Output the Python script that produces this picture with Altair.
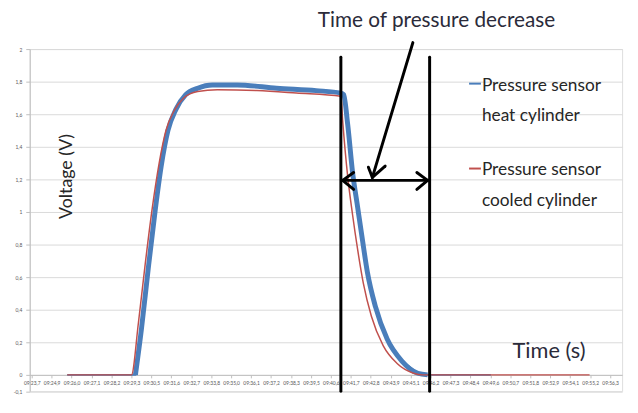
import altair as alt
import pandas as pd

# ---- data (x in category-index units of the time axis) ----
time_labels = ["09:23,7", "09:24,9", "09:26,0", "09:27,1", "09:28,2", "09:29,3",
               "09:30,5", "09:31,6", "09:32,7", "09:33,8", "09:35,0", "09:36,1",
               "09:37,2", "09:38,3", "09:39,5", "09:40,6", "09:41,7", "09:42,8",
               "09:43,9", "09:45,1", "09:46,2", "09:47,3", "09:48,4", "09:49,6",
               "09:50,7", "09:51,8", "09:52,9", "09:54,1", "09:55,2", "09:56,3"]

blue_x = [1.78, 5.20, 5.50, 5.84, 6.19, 6.49, 6.83, 7.23, 7.72, 8.32, 9.06, 10.30,
          12.28, 14.26, 15.50, 15.64, 15.84, 16.09, 16.34, 16.58, 16.83, 17.23,
          17.82, 18.56, 19.36, 19.85, 23.02]
blue_y = [0.0, 0.0, 0.28, 0.65, 1.01, 1.28, 1.50, 1.63, 1.72, 1.76, 1.78, 1.78,
          1.76, 1.745, 1.73, 1.72, 1.54, 1.24, 1.03, 0.83, 0.63, 0.42,
          0.22, 0.085, 0.01, 0.0, 0.0]

red_x = [1.78, 5.00, 5.35, 5.69, 6.04, 6.39, 6.73, 7.13, 7.62, 8.32, 9.31, 11.29,
         13.27, 15.50, 15.59, 15.84, 16.09, 16.34, 16.63, 17.03, 17.62, 18.32,
         19.11, 19.60, 27.97]
red_y = [0.0, 0.0, 0.32, 0.68, 1.02, 1.30, 1.50, 1.62, 1.70, 1.74, 1.75, 1.745,
         1.73, 1.71, 1.56, 1.22, 0.98, 0.77, 0.56, 0.36, 0.18, 0.07,
         0.012, 0.0, 0.0]

# annotation segments (vertical bars, double arrow, pointer arrow)
seg_x  = [15.50, 19.95, 15.59, 15.59, 15.59, 19.85, 19.85, 19.11, 17.08, 17.08]
seg_x2 = [15.50, 19.95, 19.85, 16.14, 16.14, 19.31, 19.31, 17.08, 16.88, 17.72]
seg_y  = [1.95, 1.95, 1.194, 1.194, 1.194, 1.194, 1.194, 2.04, 1.212, 1.212]
seg_y2 = [-0.1, -0.1, 1.194, 1.242, 1.139, 1.242, 1.139, 1.212, 1.275, 1.282]

y_ticks = [-0.1, 0, 0.2, 0.4, 0.6, 0.8, 1, 1.2, 1.4, 1.6, 1.8, 2]

blue = pd.DataFrame({"x": blue_x, "y": blue_y})
red = pd.DataFrame({"x": red_x, "y": red_y})
segs = pd.DataFrame({"x": seg_x, "x2": seg_x2, "y": seg_y, "y2": seg_y2})
one = pd.DataFrame({"k": [0]})

FONT = "Lato"
BLUE = "#4a7ebb"
RED = "#c0504d"

label_arr = "[" + ",".join("'%s'" % t for t in time_labels) + "]"

xscale = alt.Scale(domain=[-0.1, 29.6], nice=False, zero=False)
yscale = alt.Scale(domain=[-0.1, 2], nice=False, zero=False)

xax = alt.Axis(values=list(range(len(time_labels))), labelExpr=label_arr + "[datum.value]",
               labelFontSize=5, labelColor="#595959", labelFont=FONT, grid=False,
               domainColor="#bfbfbf", tickColor="#bfbfbf", tickSize=3,
               offset=-16.5, title=None, labelAngle=0, labelOverlap=False,
               labelBound=False, labelFlush=False, labelPadding=3)
yax = alt.Axis(values=y_ticks, labelExpr="replace(toString(datum.value), '.', ',')",
               labelFontSize=5, labelColor="#595959", labelFont=FONT, grid=True,
               gridColor="#d9d9d9", domainColor="#bfbfbf", tickColor="#bfbfbf",
               tickSize=4, title=None, labelPadding=4, labelOverlap=False,
               labelBound=False, labelFlush=False)

X = alt.X("x:Q", scale=xscale, axis=xax)
Y = alt.Y("y:Q", scale=yscale, axis=yax)

blue_thin = alt.Chart(blue).mark_line(color=BLUE, strokeWidth=2).encode(x=X, y=Y)
blue_thick = alt.Chart(blue).transform_filter(
    "datum.x >= 5.2 && datum.x <= 19.9").mark_line(
    color=BLUE, strokeWidth=5, strokeJoin="round", interpolate="monotone").encode(x=X, y=Y)
red_line = alt.Chart(red).mark_line(color=RED, strokeWidth=1.5,
                                    interpolate="monotone").encode(x=X, y=Y)

rules = alt.Chart(segs).mark_rule(color="black", strokeWidth=3, strokeCap="round").encode(
    x=X, x2="x2:Q", y=Y, y2="y2:Q")


def txt(s, x, y, size=15, angle=0, align="center", color="#262626", baseline="middle"):
    return alt.Chart(one).mark_text(text=s, font=FONT, fontSize=size, angle=angle,
                                    align=align, baseline=baseline, color=color).encode(
        x=alt.value(x), y=alt.value(y))


def leg_line(color, y):
    return alt.Chart(one).mark_rule(color=color, strokeWidth=2).encode(
        x=alt.value(445), x2=alt.value(457), y=alt.value(y))


annots = [
    txt("Time of pressure decrease", 412, -22, size=21, color="#2b2b3a",
        baseline="alphabetic"),
    txt("Voltage (V)", 38, 129, size=18, angle=270),
    txt("Time (s)", 526, 306, size=22, color="#2b2b3a"),
    txt("Pressure sensor", 458, 37, size=17.5, align="left"),
    txt("heat cylinder", 458, 68, size=17.5, align="left"),
    txt("Pressure sensor", 458, 123, size=17.5, align="left"),
    txt("cooled cylinder", 458, 154, size=17.5, align="left"),
    leg_line(BLUE, 35),
    leg_line(RED, 121),
]

chart = alt.layer(blue_thin, blue_thick, red_line, rules, *annots).properties(
    width=600, height=346.5,
    autosize=alt.AutoSizeParams(type="none"),
    padding={"left": 22, "top": 39, "right": 8, "bottom": 19},
).configure_view(stroke=None).configure_axis(labelOverlap=False).configure(
    background="white")

chart.save("out.html", embed_options={"renderer": "svg", "actions": False})
